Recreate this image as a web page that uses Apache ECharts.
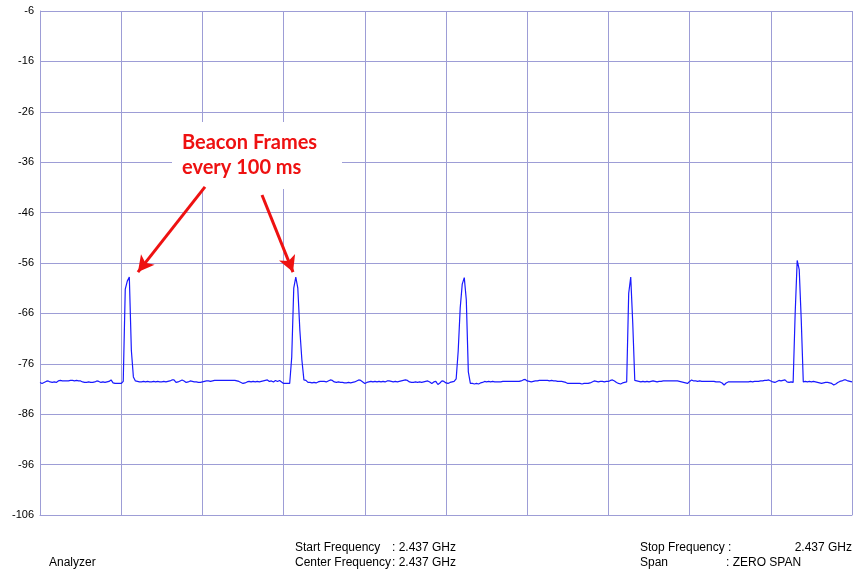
<!DOCTYPE html>
<html>
<head>
<meta charset="utf-8">
<script src="https://cdn.jsdelivr.net/npm/echarts@6/dist/echarts.min.js"></script>
<style>
html,body{margin:0;padding:0;background:#fff;}
#chart{width:853px;height:571px;}
</style>
</head>
<body>
<div id="chart"></div>
<script>
// ---- data ----
const timeStepMs = 1.25;          // sample spacing (ms)
const timeRangeMs = [0, 500];      // zero-span sweep time
const levelRangeDbm = [-106, -6];  // reference level range
const levelStepDb = 10;
const timeStepGrid = 50;

// measured trace (dBm), one value per sample
const traceDbm = [
  -79.7,-79.9,-79.7,-79.5,-79.4,-79.6,-79.7,-79.6,-79.7,-79.4,-79.3,-79.4,-79.4,-79.4,-79.4,-79.3,-79.3,-79.4,-79.3,-79.4,
  -79.4,-79.6,-79.7,-79.7,-79.6,-79.7,-79.7,-79.6,-79.4,-79.5,-79.7,-79.6,-79.7,-79.6,-79.5,-79.2,-79.8,-79.9,-79.9,-79.9,
  -79.9,-79.5,-61.2,-59.6,-58.8,-73.3,-78.6,
  -79.4,-79.5,-79.6,-79.6,-79.5,-79.6,-79.5,-79.6,-79.6,-79.5,-79.6,-79.5,-79.6,-79.6,-79.5,-79.6,-79.5,-79.4,-79.2,-79.2,
  -79.7,-79.6,-79.4,-79.2,-79.4,-79.7,-79.6,-79.4,-79.5,-79.6,-79.6,-79.7,-79.7,-79.6,-79.5,-79.4,-79.4,-79.5,-79.4,-79.3,
  -79.3,-79.3,-79.3,-79.3,-79.3,-79.3,-79.3,-79.3,-79.3,-79.3,-79.4,-79.5,-79.7,-79.9,-79.8,-79.6,-79.5,-79.6,-79.5,-79.6,
  -79.5,-79.6,-79.5,-79.4,-79.3,-79.2,-79.5,-79.4,-79.6,-79.3,-79.5,-79.3,-79.6,-79.9,-79.9,-79.9,
  -79.9,-74.7,-61.0,-58.8,-61.0,-69.3,-75.2,-79.2,
  -79.3,-79.7,-79.7,-79.8,-79.7,-79.8,-79.6,-79.5,-79.5,-79.5,-79.6,-79.4,-79.2,-79.3,-79.6,-79.7,-79.6,-79.7,-79.7,-79.8,
  -79.8,-79.7,-79.8,-79.7,-79.6,-79.4,-79.2,-79.3,-79.6,-79.9,-79.7,-79.6,-79.5,-79.6,-79.5,-79.6,-79.5,-79.6,-79.5,-79.6,
  -79.4,-79.4,-79.5,-79.6,-79.5,-79.6,-79.5,-79.4,-79.3,-79.2,-79.3,-79.6,-79.7,-79.7,-79.6,-79.7,-79.6,-79.7,-79.6,-79.5,
  -79.4,-79.6,-79.9,-79.6,-79.5,-80.1,-79.8,-79.4,-79.5,-79.8,-79.9,-79.7,-79.6,-79.5,
  -79.0,-73.5,-64.9,-60.2,-58.9,-63.3,-77.6,
  -79.9,-79.9,-80.0,-79.9,-80.0,-79.8,-79.7,-79.5,-79.6,-79.5,-79.6,-79.5,-79.6,-79.6,-79.6,-79.6,-79.5,-79.5,-79.5,-79.5,
  -79.5,-79.5,-79.5,-79.5,-79.5,-79.4,-79.2,-79.1,-79.4,-79.5,-79.6,-79.5,-79.4,-79.4,-79.3,-79.3,-79.3,-79.3,-79.3,-79.4,
  -79.3,-79.4,-79.4,-79.5,-79.5,-79.5,-79.6,-79.7,-79.9,-79.9,-79.9,-79.9,-79.9,-79.9,-79.9,-80.0,-79.9,-79.9,-79.9,-79.8,
  -79.6,-79.4,-79.5,-79.6,-79.5,-79.5,-79.6,-79.5,-79.5,-79.3,-79.2,-79.4,-79.7,-79.9,-80.0,-79.8,-79.7,-79.6,
  -62.0,-58.8,-68.0,
  -79.3,-79.4,-79.5,-79.6,-79.5,-79.6,-79.5,-79.6,-79.5,-79.4,-79.5,-79.6,-79.5,-79.5,-79.4,-79.4,-79.4,-79.4,-79.4,-79.4,
  -79.4,-79.4,-79.5,-79.6,-79.7,-79.8,-79.9,-79.5,-79.2,-79.4,-79.4,-79.5,-79.4,-79.5,-79.5,-79.5,-79.5,-79.5,-79.5,-79.5,
  -79.6,-79.6,-79.6,-79.8,-80.2,-79.8,-79.6,-79.6,-79.6,-79.6,-79.6,-79.6,-79.6,-79.6,-79.6,-79.6,-79.6,-79.5,-79.6,-79.5,
  -79.5,-79.5,-79.4,-79.4,-79.3,-79.3,-79.2,-79.4,-79.6,-79.7,-79.5,-79.3,-79.4,-79.3,-79.2,-79.6,-79.7,-79.6,-79.7,
  -66.0,-55.5,-57.3,-67.3,
  -79.6,-79.5,-79.6,-79.5,-79.6,-79.5,-79.6,-79.7,-79.8,-79.9,-79.8,-79.7,-79.7,-79.8,-79.9,-80.2,-80.0,-79.7,-79.5,-79.4,-79.2,-79.2,-79.4,-79.5,-79.6
];

// annotation
const annotationLines = ['Beacon Frames', 'every 100 ms'];
// arrows: [start [ms, dBm], end [ms, dBm]]
const arrowStarts = [[101.6, -40.9], [136.7, -42.5]];
const arrowEnds   = [[60.3, -57.8], [155.8, -57.8]];

// footer info
const footerLeft = 'Analyzer';
const footerMidLabels = ['Start Frequency', 'Center Frequency'];
const footerMidValues = [': 2.437 GHz', ': 2.437 GHz'];
const footerRightLabels = ['Stop Frequency :', 'Span'];
const footerRightValues = ['2.437 GHz', ': ZERO SPAN'];

// ---- chart ----
const gridColor = '#9d9dd6';
const traceColor = '#1a1aff';
const seriesData = traceDbm.map((v, i) => [i * timeStepMs, v]);

const chart = echarts.init(document.getElementById('chart'), null, {renderer: 'canvas'});
const uiFont = 'Liberation Sans, Arial, sans-serif';
function ft(text, x, y, align) {
  return {type: 'text', x: x, y: y, silent: true,
    style: {text: text, fontFamily: uiFont, fontSize: 12, fill: '#000',
      textAlign: align || 'left', textVerticalAlign: 'middle'}};
}

chart.setOption({
  animation: false,
  backgroundColor: '#fff',
  grid: {left: 40, top: 11, right: 1, bottom: 56, containLabel: false},
  xAxis: {
    type: 'value',
    min: timeRangeMs[0], max: timeRangeMs[1], interval: timeStepGrid,
    axisLine: {show: true, onZero: false, lineStyle: {color: gridColor, width: 1}},
    axisTick: {show: false},
    axisLabel: {show: false},
    splitLine: {show: true, lineStyle: {color: gridColor, width: 1}}
  },
  yAxis: {
    type: 'value',
    min: levelRangeDbm[0], max: levelRangeDbm[1], interval: levelStepDb,
    axisLine: {show: true, onZero: false, lineStyle: {color: gridColor, width: 1}},
    axisTick: {show: false},
    axisLabel: {color: '#000', fontFamily: uiFont, fontSize: 11, margin: 6},
    splitLine: {show: true, lineStyle: {color: gridColor, width: 1}}
  },
  series: [{
    type: 'line',
    data: seriesData,
    showSymbol: false,
    symbol: 'none',
    lineStyle: {color: traceColor, width: 1.2},
    z: 5,
    markLine: {
      silent: true,
      symbol: ['none', 'arrow'],
      symbolSize: [13, 16],
      label: {show: false},
      lineStyle: {color: '#ee1111', width: 3, type: 'solid'},
      emphasis: {disabled: true},
      data: arrowStarts.map((s, k) => [{coord: s}, {coord: arrowEnds[k]}])
    }
  }],
  graphic: [
    {type: 'rect', shape: {x: 172, y: 122, width: 170, height: 67}, style: {fill: '#fff'}, z: 1, silent: true},
    {type: 'text', x: 182, y: 155, z: 2, silent: true,
      style: {text: annotationLines.join('\n'), fill: '#ee1111', fontFamily: 'Lato, sans-serif', fontWeight: 'bold', fontSize: 20, lineHeight: 25, textVerticalAlign: 'middle'}},
    ft(footerLeft, 49, 563),
    ft(footerMidLabels[0], 295, 548),
    ft(footerMidLabels[1], 295, 563),
    ft(footerMidValues[0], 456, 548, 'right'),
    ft(footerMidValues[1], 456, 563, 'right'),
    ft(footerRightLabels[0], 640, 548),
    ft(footerRightLabels[1], 640, 563),
    ft(footerRightValues[0], 852, 548, 'right'),
    ft(footerRightValues[1], 726, 563)
  ]
});
</script>
</body>
</html>
